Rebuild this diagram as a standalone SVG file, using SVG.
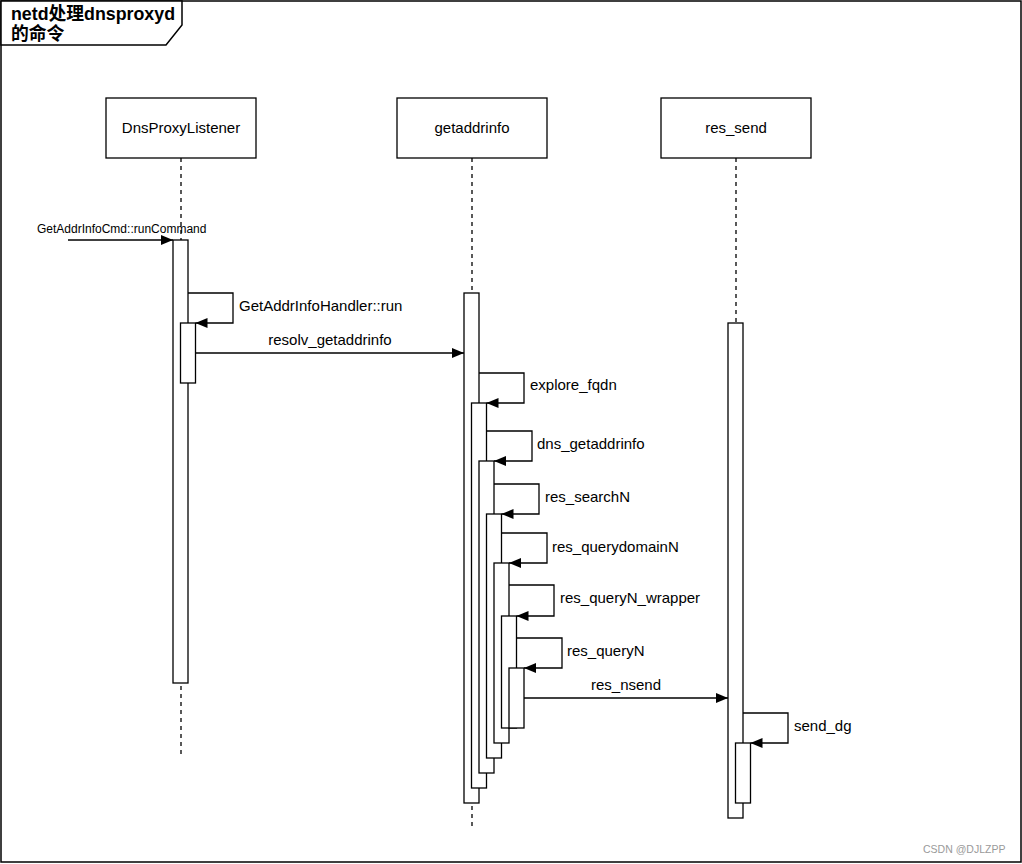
<svg xmlns="http://www.w3.org/2000/svg" width="1022" height="864" viewBox="0 0 1022 864">
<style>
  .frame{fill:#fff;stroke:#000;stroke-width:1.5}
  .box{fill:#fff;stroke:#000;stroke-width:1.3}
  .bar{fill:#fff;stroke:#000;stroke-width:1.3}
  .life{fill:none;stroke:#000;stroke-width:1.3;stroke-dasharray:4 4}
  .msg{fill:none;stroke:#000;stroke-width:1.3}
  .t{font-family:"Liberation Sans",Arial,sans-serif;font-size:15px;fill:#000}
  .small{font-size:12px}
  .title{font-family:"Liberation Sans","Noto Sans CJK SC",sans-serif;font-size:17.8px;font-weight:bold;fill:#000}
  .wm{font-family:"Liberation Sans",Arial,sans-serif;font-size:10.5px;fill:#9a9a9a}
</style>
<defs>
  <marker id="ah" markerUnits="userSpaceOnUse" markerWidth="12" markerHeight="10" refX="12" refY="5" orient="auto">
    <path d="M0,0 L12,5 L0,10 Z" fill="#000"/>
  </marker>
</defs>
<rect x="0" y="0" width="1022" height="864" fill="#fff"/>
<g id="frame">
  <rect class="frame" x="1" y="1" width="1020" height="861"/>
  <path class="frame" d="M1,1 L182,1 L182,25 L166,45 L1,45 Z"/>
  <text class="title" x="11" y="20">netd处理dnsproxyd</text>
  <text class="title" x="11" y="40">的命令</text>
</g>
<g id="connectors">
  <line class="life" x1="181" y1="158" x2="181" y2="757"/>
  <line class="life" x1="472" y1="158" x2="472" y2="830"/>
  <line class="life" x1="736" y1="158" x2="736" y2="818"/>
  <line class="msg" x1="68" y1="240" x2="173" y2="240" marker-end="url(#ah)"/>
  <polyline class="msg" points="188,293 233,293 233,323 195.5,323" marker-end="url(#ah)"/>
  <line class="msg" x1="195.5" y1="353" x2="464" y2="353" marker-end="url(#ah)"/>
  <polyline class="msg" points="479,373 524,373 524,403 486.5,403" marker-end="url(#ah)"/>
  <polyline class="msg" points="486.5,431 532,431 532,461 494,461" marker-end="url(#ah)"/>
  <polyline class="msg" points="494,484 539,484 539,514 501.5,514" marker-end="url(#ah)"/>
  <polyline class="msg" points="501.5,533 547,533 547,563 509,563" marker-end="url(#ah)"/>
  <polyline class="msg" points="509,585 554,585 554,616 516.5,616" marker-end="url(#ah)"/>
  <polyline class="msg" points="516.5,638 562,638 562,668 524,668" marker-end="url(#ah)"/>
  <line class="msg" x1="524" y1="698" x2="728" y2="698" marker-end="url(#ah)"/>
  <polyline class="msg" points="743,713 788,713 788,743 750.5,743" marker-end="url(#ah)"/>
  <text class="t small" x="37" y="233">GetAddrInfoCmd::runCommand</text>
  <text class="t" x="239" y="311">GetAddrInfoHandler::run</text>
  <text class="t" x="330" y="345" text-anchor="middle">resolv_getaddrinfo</text>
  <text class="t" x="530" y="390">explore_fqdn</text>
  <text class="t" x="537" y="449">dns_getaddrinfo</text>
  <text class="t" x="545" y="502">res_searchN</text>
  <text class="t" x="552" y="552">res_querydomainN</text>
  <text class="t" x="560" y="603">res_queryN_wrapper</text>
  <text class="t" x="567" y="656">res_queryN</text>
  <text class="t" x="626" y="690" text-anchor="middle">res_nsend</text>
  <text class="t" x="794" y="731">send_dg</text>
</g>
<g id="DnsProxyListener">
  <rect class="box" x="106" y="98" width="150" height="60"/>
  <text class="t" x="181" y="133" text-anchor="middle">DnsProxyListener</text>
</g>
<g id="getaddrinfo">
  <rect class="box" x="397" y="98" width="150" height="60"/>
  <text class="t" x="472" y="133" text-anchor="middle">getaddrinfo</text>
</g>
<g id="res_send">
  <rect class="box" x="661" y="98" width="150" height="60"/>
  <text class="t" x="736" y="133" text-anchor="middle">res_send</text>
</g>
<g id="act-dns-1"><rect class="bar" x="173" y="240" width="15" height="443"/></g>
<g id="act-dns-2"><rect class="bar" x="180.5" y="323" width="15" height="60"/></g>
<g id="act-gai-1"><rect class="bar" x="464" y="293" width="15" height="510"/></g>
<g id="act-gai-2"><rect class="bar" x="471.5" y="403" width="15" height="385"/></g>
<g id="act-gai-3"><rect class="bar" x="479" y="461" width="15" height="312"/></g>
<g id="act-gai-4"><rect class="bar" x="486.5" y="514" width="15" height="244"/></g>
<g id="act-gai-5"><rect class="bar" x="494" y="563" width="15" height="180"/></g>
<g id="act-gai-6"><rect class="bar" x="501.5" y="616" width="15" height="112"/></g>
<g id="act-gai-7"><rect class="bar" x="509" y="668" width="15" height="60"/></g>
<g id="act-rs-1"><rect class="bar" x="728" y="323" width="15" height="495"/></g>
<g id="act-rs-2"><rect class="bar" x="735.5" y="743" width="15" height="60"/></g>
<text class="wm" x="923" y="853">CSDN @DJLZPP</text>
</svg>
